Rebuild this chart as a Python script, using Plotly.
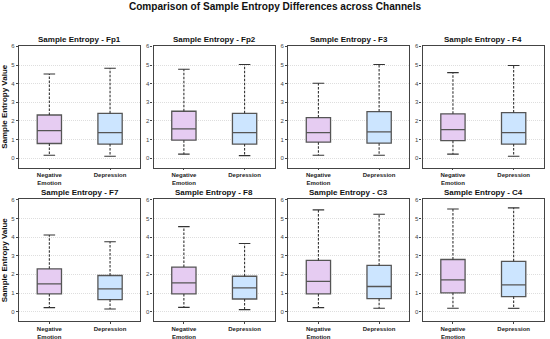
import plotly.graph_objects as go
from plotly.subplots import make_subplots

channels = ["Fp1", "Fp2", "F3", "F4", "F7", "F8", "C3", "C4"]
groups = ["Negative<br>Emotion", "Depression"]

# Negative Emotion stats per channel
ne_lower = [0.16, 0.22, 0.16, 0.22, 0.22, 0.23, 0.22, 0.18]
ne_q1 = [0.79, 0.97, 0.86, 0.94, 0.95, 0.95, 0.95, 1.01]
ne_median = [1.48, 1.57, 1.37, 1.53, 1.49, 1.54, 1.63, 1.71]
ne_q3 = [2.32, 2.52, 2.18, 2.38, 2.30, 2.39, 2.75, 2.80]
ne_upper = [4.52, 4.77, 4.02, 4.59, 4.11, 4.56, 5.46, 5.51]

# Depression stats per channel
dep_lower = [0.11, 0.14, 0.16, 0.11, 0.14, 0.11, 0.18, 0.18]
dep_q1 = [0.76, 0.76, 0.81, 0.76, 0.65, 0.68, 0.70, 0.81]
dep_median = [1.37, 1.37, 1.41, 1.37, 1.22, 1.28, 1.35, 1.44]
dep_q3 = [2.41, 2.41, 2.50, 2.45, 1.94, 1.90, 2.48, 2.70]
dep_upper = [4.83, 5.03, 5.03, 4.97, 3.75, 3.66, 5.23, 5.57]

y_ticks = [0, 1, 2, 3, 4, 5, 6]

fills = ["#E6CCF2", "#CCE5FF"]
edge = "#555555"
font = "Liberation Sans, Arial, sans-serif"

fig = make_subplots(
    rows=2, cols=4,
    subplot_titles=[f"<b>Sample Entropy - {c}</b>" for c in channels],
    horizontal_spacing=0.025, vertical_spacing=0.116,
)

stats = [
    (ne_lower, ne_q1, ne_median, ne_q3, ne_upper),
    (dep_lower, dep_q1, dep_median, dep_q3, dep_upper),
]

for i, ch in enumerate(channels):
    r, c = i // 4 + 1, i % 4 + 1
    for g, (lo, q1, med, q3, up) in enumerate(stats):
        fig.add_trace(go.Box(
            x=[g], q1=[q1[i]], median=[med[i]], q3=[q3[i]],
            lowerfence=[q1[i]], upperfence=[q3[i]],
            width=0.4, fillcolor=fills[g],
            line=dict(color=edge, width=1.3),
            boxpoints=False, showlegend=False, hoverinfo="skip",
        ), row=r, col=c)
        fig.add_trace(go.Scatter(
            x=[g, g, None, g, g], y=[q3[i], up[i], None, q1[i], lo[i]],
            mode="lines", line=dict(color="#333333", width=1.1, dash="2.5px,1.5px"),
            showlegend=False, hoverinfo="skip",
        ), row=r, col=c)
        fig.add_trace(go.Scatter(
            x=[g - 0.095, g + 0.095, None, g - 0.095, g + 0.095],
            y=[up[i], up[i], None, lo[i], lo[i]],
            mode="lines", line=dict(color="#333333", width=1.1),
            showlegend=False, hoverinfo="skip",
        ), row=r, col=c)

fig.update_xaxes(
    range=[-0.5, 1.5], tickmode="array", tickvals=[0, 1],
    ticktext=[f"<b>{g}</b>" for g in groups],
    tickfont=dict(size=6, color="#222222", family=font),
    showline=True, mirror=True, linecolor="#444444", linewidth=1.2,
    ticks="outside", ticklen=1.5, tickcolor="#444444", showgrid=False, zeroline=False,
    automargin=False,
)
fig.update_yaxes(
    range=[-0.5, 6.02], tickmode="array", tickvals=y_ticks,
    tickfont=dict(size=6, color="#444444", family=font),
    showline=True, mirror=True, linecolor="#444444", linewidth=1.2,
    ticks="outside", ticklen=2, tickcolor="#444444",
    showgrid=True, gridcolor="#dedede", griddash="1px,1px", gridwidth=1, zeroline=False,
    automargin=False,
)
for r in (1, 2):
    fig.update_yaxes(title=dict(text="<b>Sample Entropy Value</b>", font=dict(size=8, color="#111111", family=font)), row=r, col=1)

for a in fig.layout.annotations:
    a.font = dict(size=8, color="#111111", family=font)

fig.update_layout(
    width=550, height=339,
    margin=dict(l=19, r=6, t=46, b=18),
    paper_bgcolor="white", plot_bgcolor="white",
    title=dict(text="<b>Comparison of Sample Entropy Differences across Channels</b>",
               x=0.5, xanchor="center", y=0.99, yanchor="top",
               font=dict(size=10.1, color="#111111", family=font)),
    font=dict(family=font),
)

fig.write_html("out.html", config={"displayModeBar": False},
               post_script="document.body.style.margin='0';document.body.style.overflow='hidden';")
